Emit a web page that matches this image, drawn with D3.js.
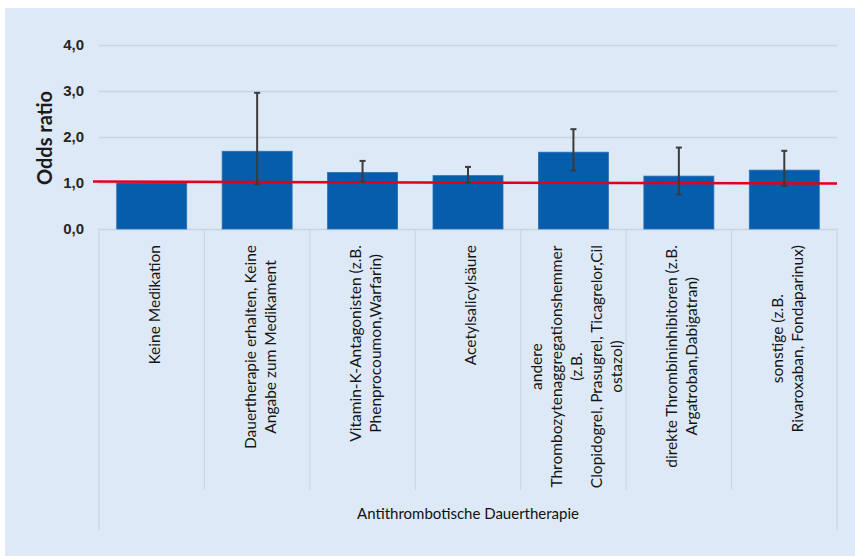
<!DOCTYPE html>
<html>
<head>
<meta charset="utf-8">
<script src="https://cdn.jsdelivr.net/npm/d3@7"></script>
<style>
  body { margin: 0; background: #fff; }
  svg { display: block; font-family: Lato, "Open Sans", sans-serif; }
</style>
</head>
<body>
<div id="chart"></div>
<script>
const categories = [
  ['Keine Medikation'],
  ['Dauertherapie erhalten, Keine', 'Angabe zum Medikament'],
  ['Vitamin-K-Antagonisten (z.B.', 'Phenprocoumon,Warfarin)'],
  ['Acetylsalicylsäure'],
  ['andere', 'Thrombozytenaggregationshemmer', '(z.B.', 'Clopidogrel, Prasugrel, Ticagrelor,Cil', 'ostazol)'],
  ['direkte Thrombininhibitoren (z.B.', 'Argatroban,Dabigatran)'],
  ['sonstige (z.B.', 'Rivaroxaban, Fondaparinux)'],
];
const oddsRatio = [1.0, 1.69, 1.23, 1.16, 1.67, 1.15, 1.28];
const ciUpper = [null, 2.96, 1.48, 1.35, 2.17, 1.77, 1.70];
const ciLower = [null, 0.97, 1.03, 1.01, 1.27, 0.75, 0.94];
const yTicks = [0, 1, 2, 3, 4];
const refLine = [1.03, 0.99];
const yTitle = 'Odds ratio';
const xTitle = 'Antithrombotische Dauertherapie';

const width = 855;
const height = 556;
const plot = { left: 99, right: 837, top: 45, bottom: 229 };

const svg = d3.select('#chart')
  .append('svg')
  .attr('width', width)
  .attr('height', height);

svg.append('rect')
  .attr('x', 5)
  .attr('y', 8)
  .attr('width', width - 5)
  .attr('height', height - 8)
  .attr('fill', '#dde9f6');

const keys = categories.map((d, i) => i);

const x = d3.scaleBand()
  .domain(keys)
  .range([plot.left, plot.right])
  .paddingInner(0.336)
  .paddingOuter(0.168);

const y = d3.scaleLinear()
  .domain([0, 4])
  .range([plot.bottom, plot.top]);

// gridlines + y labels
const yAxis = d3.axisLeft(y)
  .tickValues(yTicks)
  .tickSize(-(plot.right - plot.left))
  .tickPadding(15)
  .tickFormat(d => d3.format('.1f')(d).replace('.', ','));

const gy = svg.append('g')
  .attr('transform', `translate(${plot.left}, 0)`)
  .call(yAxis);
gy.select('.domain').remove();
gy.selectAll('line')
  .attr('stroke', '#c7d4e3')
  .attr('stroke-width', 1.5);
gy.selectAll('text')
  .attr('fill', '#262626')
  .attr('font-size', 15)
  .attr('font-weight', 'bold');

// category separators
const step = x.step();
const seps = d3.range(categories.length + 1);
svg.append('g')
  .selectAll('line')
  .data(seps)
  .join('line')
  .attr('x1', d => plot.left + d * step)
  .attr('x2', d => plot.left + d * step)
  .attr('y1', plot.bottom)
  .attr('y2', d => (d === 0 || d === categories.length ? 530 : 490))
  .attr('stroke', '#c7d4e3')
  .attr('stroke-width', 1);

// bars
svg.append('g')
  .selectAll('rect')
  .data(oddsRatio)
  .join('rect')
  .attr('x', (d, i) => x(i))
  .attr('y', d => y(d))
  .attr('width', x.bandwidth())
  .attr('height', d => y(0) - y(d))
  .attr('fill', '#065dab')
  .attr('stroke', '#2a71b6')
  .attr('stroke-width', 0.8);

// reference line
svg.append('line')
  .attr('x1', plot.left - 6)
  .attr('x2', plot.right)
  .attr('y1', y(refLine[0]))
  .attr('y2', y(refLine[1]))
  .attr('stroke', '#e2001a')
  .attr('stroke-width', 2.5);

// error bars
const errData = keys.filter(i => ciUpper[i] !== null);
const errG = svg.append('g')
  .attr('stroke', '#3b3b3b')
  .attr('stroke-width', 2);

errG.selectAll('.err-line')
  .data(errData)
  .join('line')
  .attr('class', 'err-line')
  .attr('x1', i => x(i) + x.bandwidth() / 2)
  .attr('x2', i => x(i) + x.bandwidth() / 2)
  .attr('y1', i => y(ciUpper[i]))
  .attr('y2', i => y(ciLower[i]));

errG.selectAll('.err-cap-top')
  .data(errData)
  .join('line')
  .attr('class', 'err-cap-top')
  .attr('x1', i => x(i) + x.bandwidth() / 2 - 3)
  .attr('x2', i => x(i) + x.bandwidth() / 2 + 3)
  .attr('y1', i => y(ciUpper[i]))
  .attr('y2', i => y(ciUpper[i]));

errG.selectAll('.err-cap-bottom')
  .data(errData)
  .join('line')
  .attr('class', 'err-cap-bottom')
  .attr('x1', i => x(i) + x.bandwidth() / 2 - 3)
  .attr('x2', i => x(i) + x.bandwidth() / 2 + 3)
  .attr('y1', i => y(ciLower[i]))
  .attr('y2', i => y(ciLower[i]));

// category labels, rotated
const labelTop = 245;
const lineH = 20;
categories.forEach((lines, i) => {
  const g = svg.append('g')
    .attr('font-size', 15.5)
    .attr('fill', '#151515');
  const texts = g.selectAll('text')
    .data(lines)
    .join('text')
    .attr('text-anchor', 'middle')
    .attr('y', (d, j) => (j - (lines.length - 1) / 2) * lineH)
    .attr('dy', '0.35em')
    .text(d => d);
  const maxLen = d3.max(texts.nodes(), n => n.getComputedTextLength());
  texts.attr('x', -maxLen / 2);
  g.attr('transform', `translate(${x(i) + x.bandwidth() / 2 + 3}, ${labelTop}) rotate(-90)`);
});

// axis titles
svg.append('text')
  .attr('transform', `translate(52, 138) rotate(-90)`)
  .attr('text-anchor', 'middle')
  .attr('font-size', 20)
  .attr('font-weight', 'bold')
  .attr('fill', '#1a1a1a')
  .text(yTitle);

svg.append('text')
  .attr('x', (plot.left + plot.right) / 2)
  .attr('y', 519)
  .attr('text-anchor', 'middle')
  .attr('font-size', 15)
  .attr('fill', '#111')
  .text(xTitle);
</script>
</body>
</html>
